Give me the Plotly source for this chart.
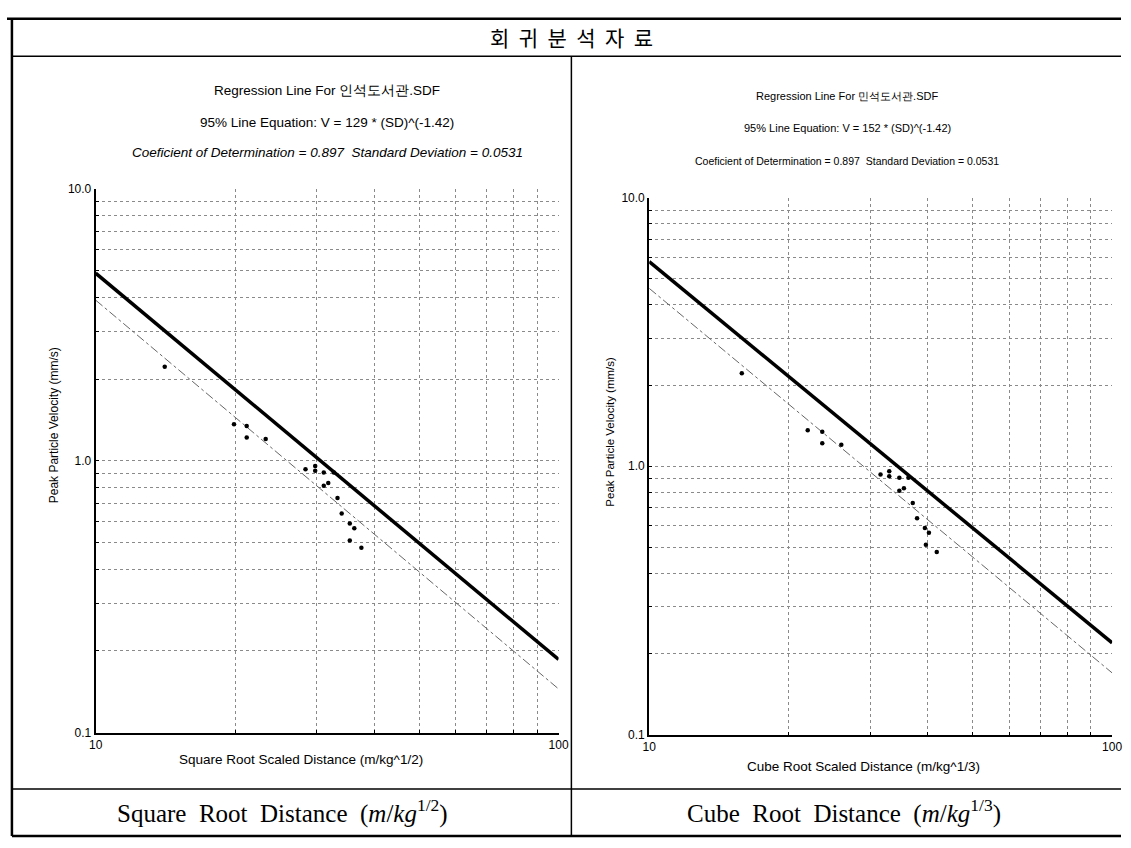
import plotly.graph_objects as go

W, H = 1131, 848

# ---- data ----
ppv = [2.22, 1.363, 1.344, 1.219, 1.203, 0.932, 0.958, 0.919, 0.906, 0.906,
       0.829, 0.811, 0.730, 0.640, 0.589, 0.565, 0.510, 0.479]
sqrt_sd = [14.1, 19.9, 21.2, 21.2, 23.3, 28.4, 29.8, 29.8, 31.1, 32.7,
           31.8, 31.1, 33.3, 34.0, 35.4, 36.2, 35.4, 37.5]
cube_sd = [15.85, 22.0, 23.65, 23.65, 26.0, 31.6, 33.0, 33.0, 34.7, 36.3,
           35.5, 34.7, 37.1, 37.9, 39.4, 40.2, 39.6, 41.8]

line_x = [10, 100]
sqrt_95_y = [4.90, 0.186]
sqrt_mean_y = [3.9, 0.145]
cube_95_y = [5.78, 0.22]
cube_mean_y = [4.6, 0.17]

y_tickvals = [0.1, 1, 10]
y_ticktext = ["0.1", "1.0", "10.0"]
y_minorvals = [0.2, 0.3, 0.4, 0.5, 0.6, 0.7, 0.8, 0.9,
               2, 3, 4, 5, 6, 7, 8, 9]
x_tickvals = [10, 100]
x_ticktext = ["10", "100"]
x_minorvals = [20, 30, 40, 50, 60, 70, 80, 90]

def px(x):
    return x / W

def py(y):
    return 1 - y / H

fig = go.Figure()

for xa, ya, sd, y95, ymean in [("x", "y", sqrt_sd, sqrt_95_y, sqrt_mean_y),
                               ("x2", "y2", cube_sd, cube_95_y, cube_mean_y)]:
    fig.add_trace(go.Scatter(x=line_x, y=ymean, mode="lines", xaxis=xa, yaxis=ya,
                             line=dict(color="#666666", width=1, dash="dashdot"),
                             showlegend=False))
    fig.add_trace(go.Scatter(x=line_x, y=y95, mode="lines", xaxis=xa, yaxis=ya,
                             line=dict(color="black", width=3.5),
                             showlegend=False))
    fig.add_trace(go.Scatter(x=sd, y=ppv, mode="markers", xaxis=xa, yaxis=ya,
                             marker=dict(color="black", size=4.5, symbol="circle"),
                             showlegend=False))

grid_style = dict(showgrid=True, gridcolor="#8a8a8a", gridwidth=1, griddash="dot",
                  ticks="inside", ticklen=3, tickcolor="black")
axis_common = dict(type="log", showline=True, linecolor="black", linewidth=2,
                   mirror=False, zeroline=False,
                   tickfont=dict(family="Liberation Sans, Arial", size=12, color="black"),
                   **grid_style)

def xaxis(domain, anchor):
    return dict(axis_common, domain=domain, range=[1, 2], anchor=anchor,
                tickmode="array", tickvals=x_tickvals, ticktext=x_ticktext,
                minor=dict(grid_style, tickmode="array", tickvals=x_minorvals))

def yaxis(domain, anchor):
    return dict(axis_common, domain=domain, range=[-1, 1], anchor=anchor,
                tickmode="array", tickvals=y_tickvals, ticktext=y_ticktext,
                minor=dict(grid_style, tickmode="array", tickvals=y_minorvals))

fig.update_layout(
    width=W, height=H,
    margin=dict(l=0, r=0, t=0, b=0),
    paper_bgcolor="white", plot_bgcolor="white",
    showlegend=False,
    xaxis=xaxis([px(90), px(560)], "y"),
    yaxis=yaxis([py(738), py(185)], "x"),
    xaxis2=xaxis([px(652), px(1122)], "y2"),
    yaxis2=yaxis([py(740), py(194)], "x2"),
)

# frame lines
frame = dict(color="black", width=2.5)
shapes = [
    dict(type="line", xref="paper", yref="paper", x0=px(0), x1=px(W), y0=py(12), y1=py(12), line=frame),
    dict(type="line", xref="paper", yref="paper", x0=px(5), x1=px(5), y0=py(12), y1=py(843), line=frame),
    dict(type="line", xref="paper", yref="paper", x0=px(5), x1=px(W), y0=py(843), y1=py(843), line=frame),
    dict(type="line", xref="paper", yref="paper", x0=px(5), x1=px(W), y0=py(50), y1=py(50), line=dict(color="black", width=1.5)),
    dict(type="line", xref="paper", yref="paper", x0=px(573), x1=px(573), y0=py(50), y1=py(843), line=dict(color="black", width=1.5)),
    dict(type="line", xref="paper", yref="paper", x0=px(5), x1=px(W), y0=py(795), y1=py(795), line=dict(color="black", width=1.5)),
]
fig.update_layout(shapes=shapes)

sans = "Liberation Sans, Arial, sans-serif"
kr = "Noto Sans CJK KR, sans-serif"
serif = "Liberation Serif, DejaVu Serif, serif"

def ann(text, x, y, size, family=sans, angle=0):
    return dict(text=text, x=px(x), y=py(y), xref="paper", yref="paper",
                showarrow=False, xanchor="center", yanchor="middle",
                textangle=angle, font=dict(family=family, size=size, color="black"))

annotations = [
    ann("회  귀  분  석  자  료", 573, 30, 21, kr),
    ann("Regression Line For 인석도서관.SDF", 325, 85, 13.5),
    ann("95% Line Equation: V = 129 * (SD)^(-1.42)", 325, 117, 13.5),
    ann("<i>Coeficient of Determination = 0.897  Standard Deviation = 0.0531</i>", 325, 148, 13.5),
    ann("Regression Line For 민석도서관.SDF", 853, 90, 11),
    ann("95% Line Equation: V = 152 * (SD)^(-1.42)", 853, 123, 11),
    ann("Coeficient of Determination = 0.897  Standard Deviation = 0.0531", 853, 157, 10.5),
    ann("Peak Particle Velocity (mm/s)", 48, 425, 12, angle=-90),
    ann("Peak Particle Velocity (mm/s)", 612, 432, 11.5, angle=-90),
    ann("Square Root Scaled Distance (m/kg^1/2)", 298, 765, 13.5),
    ann("Cube Root Scaled Distance (m/kg^1/3)", 870, 772, 13.5),
    ann("Square  Root  Distance  (<i>m</i>/<i>kg</i><sup>1/2</sup>)", 280, 818, 25, serif),
    ann("Cube  Root  Distance  (<i>m</i>/<i>kg</i><sup>1/3</sup>)", 850, 818, 25, serif),
]
fig.update_layout(annotations=annotations)

fig.write_html("out.html", config={"displayModeBar": False},
               post_script="document.body.style.margin='0';document.body.style.overflow='hidden';")
